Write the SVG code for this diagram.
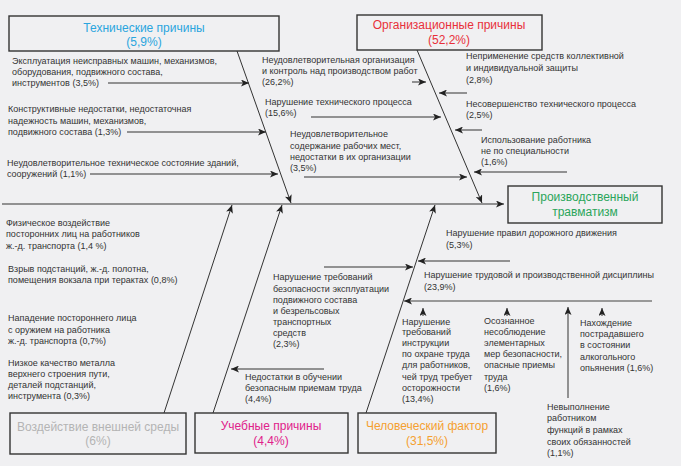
<svg xmlns="http://www.w3.org/2000/svg" width="681" height="466" viewBox="0 0 681 466">
<defs>
<marker id="ah" markerUnits="userSpaceOnUse" markerWidth="9" markerHeight="7" refX="8" refY="3.5" orient="auto">
<path d="M0,0 L8,3.5 L0,7 L2,3.5 Z" fill="#222"/>
</marker>
</defs>
<style>
.bg{fill:#f0f0f2}
.box{fill:#f0f0f2;stroke:#333;stroke-width:1.4}
.ln{stroke:#333;stroke-width:1;fill:none;marker-end:url(#ah)}
.gl{stroke:#999;stroke-width:2;fill:none;marker-end:url(#ah)}
.sp{stroke:#333;stroke-width:1.2;fill:none}
.t{font-family:"Liberation Sans",Arial,sans-serif;font-size:9px;fill:#333}
.h{font-family:"Liberation Sans",Arial,sans-serif;font-size:12px;text-anchor:middle}
</style>
<rect class="bg" x="0" y="0" width="681" height="466"/>

<g id="connectors">
<line class="ln" x1="2" y1="204" x2="504" y2="204"/>
<line class="ln" x1="237" y1="51" x2="291" y2="203"/>
<line class="ln" x1="417" y1="50" x2="482" y2="203"/>
<line class="ln" x1="164" y1="413" x2="232" y2="205"/>
<line class="ln" x1="213" y1="413" x2="282" y2="205"/>
<line class="ln" x1="366" y1="413" x2="435" y2="205"/>
<line class="ln" x1="108" y1="83" x2="249" y2="83"/>
<line class="ln" x1="127" y1="132" x2="266" y2="132"/>
<line class="ln" x1="90" y1="174" x2="278" y2="174"/>
<line class="ln" x1="412" y1="82" x2="426" y2="82"/>
<line class="ln" x1="311" y1="117" x2="441" y2="117"/>
<line class="ln" x1="304" y1="177" x2="467" y2="177"/>
<line class="ln" x1="467" y1="93" x2="439" y2="93"/>
<line class="ln" x1="482" y1="130" x2="455" y2="130"/>
<line class="ln" x1="567" y1="172" x2="474" y2="172"/>
<line class="ln" x1="510" y1="261" x2="418" y2="261"/>
<line class="ln" x1="324" y1="267" x2="413" y2="267"/>
<line class="gl" x1="652" y1="301" x2="404" y2="301"/>
<line class="ln" x1="324" y1="369" x2="231" y2="369"/>
<line class="ln" x1="423" y1="316" x2="423" y2="308"/>
<line class="ln" x1="507" y1="316" x2="507" y2="308"/>
<line class="ln" x1="602" y1="316" x2="602" y2="308"/>
<line class="ln" x1="568" y1="398" x2="568" y2="307"/>
</g>

<g id="node-tech">
<rect class="box" x="9" y="16" width="270" height="35"/>
<text class="h" x="144" y="32" fill="#2aa5de">Технические причины</text>
<text class="h" x="144" y="46" fill="#2aa5de">(5,9%)</text>
</g>
<g id="node-org">
<rect class="box" x="357" y="15" width="185" height="35"/>
<text class="h" x="449" y="29" fill="#e8303a">Организационные причины</text>
<text class="h" x="449" y="44" fill="#e8303a">(52,2%)</text>
</g>
<g id="node-main">
<rect class="box" x="508" y="186" width="154" height="37"/>
<text class="h" x="585" y="201" fill="#2aa55a">Производственный</text>
<text class="h" x="585" y="216" fill="#2aa55a">травматизм</text>
</g>
<g id="node-ext">
<rect class="box" x="10" y="413" width="176" height="41"/>
<text class="h" x="98" y="431" fill="#b4b4b4">Воздействие внешней среды</text>
<text class="h" x="98" y="445" fill="#b4b4b4">(6%)</text>
</g>
<g id="node-learn">
<rect class="box" x="195" y="413" width="153" height="40"/>
<text class="h" x="271" y="430" fill="#e0218a">Учебные причины</text>
<text class="h" x="271" y="445" fill="#e0218a">(4,4%)</text>
</g>
<g id="node-human">
<rect class="box" x="358" y="413" width="138" height="40"/>
<text class="h" x="427" y="430" fill="#f5a030">Человеческий фактор</text>
<text class="h" x="427" y="445" fill="#f5a030">(31,5%)</text>
</g>

<g id="labels-tech">
<text class="t"><tspan x="12" y="64">Эксплуатация неисправных машин, механизмов,</tspan><tspan x="12" y="75">оборудования, подвижного состава,</tspan><tspan x="12" y="86">инструментов (3,5%)</tspan></text>
<text class="t"><tspan x="8" y="112">Конструктивные недостатки, недостаточная</tspan><tspan x="8" y="124">надежность машин, механизмов,</tspan><tspan x="8" y="135">подвижного состава (1,3%)</tspan></text>
<text class="t"><tspan x="7" y="166">Неудовлетворительное техническое состояние зданий,</tspan><tspan x="7" y="177">сооружений (1,1%)</tspan></text>
</g>
<g id="labels-org">
<text class="t"><tspan x="262" y="63">Неудовлетворительная организация</tspan><tspan x="262" y="74">и контроль над производством работ</tspan><tspan x="262" y="85">(26,2%)</tspan></text>
<text class="t"><tspan x="265" y="105">Нарушение технического процесса</tspan><tspan x="265" y="116">(15,6%)</tspan></text>
<text class="t"><tspan x="290" y="137">Неудовлетворительное</tspan><tspan x="290" y="149">содержание рабочих мест,</tspan><tspan x="290" y="160">недостатки в их организации</tspan><tspan x="290" y="171">(3,5%)</tspan></text>
<text class="t"><tspan x="466" y="59">Неприменение средств коллективной</tspan><tspan x="466" y="71">и индивидуальной защиты</tspan><tspan x="466" y="83">(2,8%)</tspan></text>
<text class="t"><tspan x="466" y="107">Несовершенство технического процесса</tspan><tspan x="466" y="118">(2,5%)</tspan></text>
<text class="t"><tspan x="481" y="143">Использование работника</tspan><tspan x="481" y="154">не по специальности</tspan><tspan x="481" y="165">(1,6%)</tspan></text>
</g>
<g id="labels-ext">
<text class="t"><tspan x="6" y="226">Физическое воздействие</tspan><tspan x="6" y="237">посторонних лиц на работников</tspan><tspan x="6" y="249">ж.-д. транспорта (1,4 %)</tspan></text>
<text class="t"><tspan x="8" y="272">Взрыв подстанций, ж.-д. полотна,</tspan><tspan x="8" y="283">помещения вокзала при терактах (0,8%)</tspan></text>
<text class="t"><tspan x="8" y="321">Нападение постороннего лица</tspan><tspan x="8" y="333">с оружием на работника</tspan><tspan x="8" y="344">ж.-д. транспорта (0,7%)</tspan></text>
<text class="t"><tspan x="8" y="366">Низкое качество металла</tspan><tspan x="8" y="377">верхнего строения пути,</tspan><tspan x="8" y="388">деталей подстанций,</tspan><tspan x="8" y="399">инструмента (0,3%)</tspan></text>
</g>
<g id="labels-learn">
<text class="t"><tspan x="245" y="380">Недостатки в обучении</tspan><tspan x="245" y="391">безопасным приемам труда</tspan><tspan x="245" y="402">(4,4%)</tspan></text>
</g>
<g id="labels-human">
<text class="t"><tspan x="446" y="236">Нарушение правил дорожного движения</tspan><tspan x="446" y="248">(5,3%)</tspan></text>
<text class="t"><tspan x="424" y="278">Нарушение трудовой и производственной дисциплины</tspan><tspan x="424" y="290">(23,9%)</tspan></text>
<text class="t"><tspan x="273" y="280">Нарушение требований</tspan><tspan x="273" y="292">безопасности эксплуатации</tspan><tspan x="273" y="303">подвижного состава</tspan><tspan x="273" y="314">и безрельсовых</tspan><tspan x="273" y="325">транспортных</tspan><tspan x="273" y="336">средств</tspan><tspan x="273" y="347">(2,3%)</tspan></text>
<text class="t"><tspan x="402" y="325">Нарушение</tspan><tspan x="402" y="335">требований</tspan><tspan x="402" y="346">инструкции</tspan><tspan x="402" y="357">по охране труда</tspan><tspan x="402" y="368">для работников,</tspan><tspan x="402" y="380">чей труд требует</tspan><tspan x="402" y="391">осторожности</tspan><tspan x="402" y="402">(13,4%)</tspan></text>
<text class="t"><tspan x="484" y="324">Осознанное</tspan><tspan x="484" y="335">несоблюдение</tspan><tspan x="484" y="346">элементарных</tspan><tspan x="484" y="357">мер безопасности,</tspan><tspan x="484" y="368">опасные приемы</tspan><tspan x="484" y="380">труда</tspan><tspan x="484" y="391">(1,6%)</tspan></text>
<text class="t"><tspan x="580" y="326">Нахождение</tspan><tspan x="580" y="337">пострадавшего</tspan><tspan x="580" y="348">в состоянии</tspan><tspan x="580" y="360">алкогольного</tspan><tspan x="580" y="371">опьянения (1,6%)</tspan></text>
<text class="t"><tspan x="547" y="410">Невыполнение</tspan><tspan x="547" y="421">работником</tspan><tspan x="547" y="433">функций в рамках</tspan><tspan x="547" y="445">своих обязанностей</tspan><tspan x="547" y="456">(1,1%)</tspan></text>
</g>
</svg>
